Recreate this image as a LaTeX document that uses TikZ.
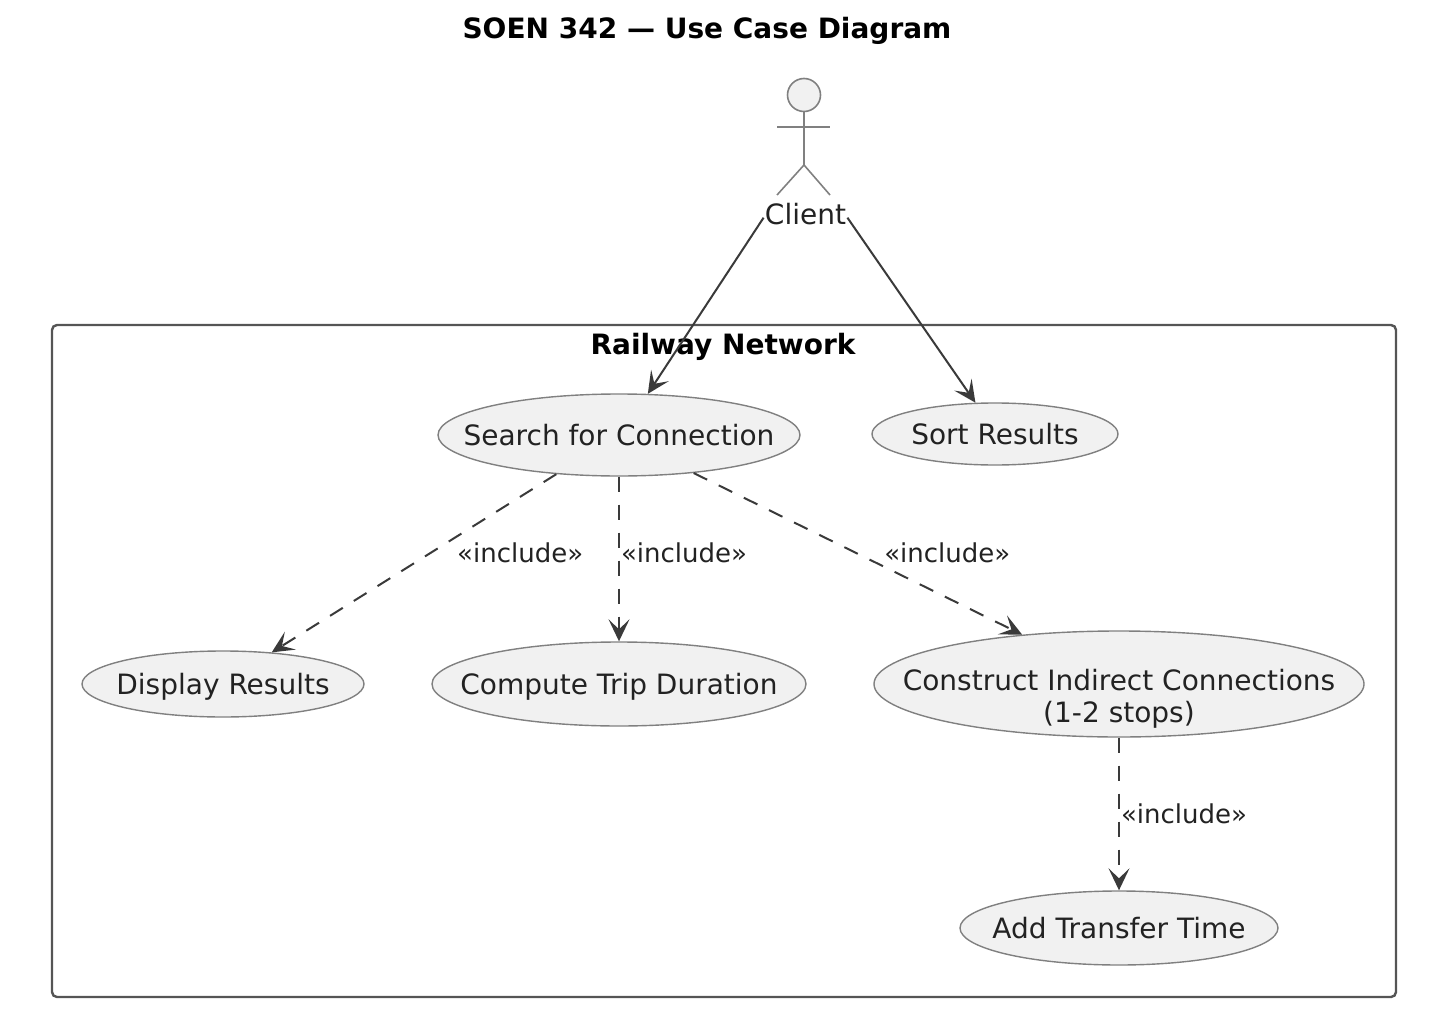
\documentclass[tikz,border=0pt]{standalone}
\usepackage{fontspec}
\setmainfont{DejaVu Sans}
\usetikzlibrary{arrows.meta,shapes.geometric}

\definecolor{caseFill}{HTML}{F1F1F1}
\definecolor{caseLine}{HTML}{808080}
\definecolor{arrowLine}{HTML}{3A3A3A}
\definecolor{frameLine}{HTML}{555555}
\definecolor{labelText}{HTML}{222222}

\tikzset{
    usecase/.style={ellipse,draw=caseLine,fill=caseFill,line width=0.7pt,inner sep=-100pt,align=center,
        text height=10.5pt,text depth=0pt,text=labelText,font=\fontsize{14}{16}\selectfont},
    assoc/.style={draw=arrowLine,line width=1pt,-{Stealth[length=11pt,width=10.5pt,inset=5pt]}},
    incl/.style={assoc,dash pattern=on 7.5pt off 6.5pt},
    inclabel/.style={inner sep=0pt,text=labelText,font=\fontsize{13}{15}\selectfont},
    stick/.style={draw=caseLine,line width=0.8pt}
}

\begin{document}
\begin{tikzpicture}[x=0.5pt,y=-0.5pt]
\useasboundingbox (0,0) rectangle (1430,1022);

% Title
\node[font=\fontsize{14}{16}\selectfont\bfseries,text=black] (title) at (707,31) {SOEN 342 — Use Case Diagram};

% Actor
\draw[stick,fill=caseFill] (804,95) circle (16.5);
\draw[stick] (804,111) -- (804,165);
\draw[stick] (777,127) -- (830,127);
\draw[stick] (777,195) -- (804,165) -- (830,195);
\node[inner sep=0pt,minimum width=41.5pt,minimum height=15pt,text=labelText,font=\fontsize{14}{16}\selectfont] (client) at (805.5,214) {Client};

% System boundary
\draw[frameLine,line width=1.2pt,rounded corners=2.5pt] (52,325) rectangle (1396,997);
\node[font=\fontsize{14}{16}\selectfont\bfseries,text=black] (railway) at (723,347) {Railway Network};

% Use cases
\node[usecase,minimum width=181pt,minimum height=41pt] (search) at (619,435) {Search for Connection};
\node[usecase,minimum width=123pt,minimum height=31pt] (sort) at (995,434) {Sort Results};
\node[usecase,minimum width=141pt,minimum height=33pt] (display) at (223,684) {Display Results};
\node[usecase,minimum width=187pt,minimum height=42pt] (compute) at (619,684) {Compute Trip Duration};
\node[usecase,minimum width=245pt,minimum height=53pt,text height=38.5pt,text depth=0pt] (construct) at (1119,684) {Construct Indirect Connections\\(1-2 stops)};
\node[usecase,minimum width=159pt,minimum height=37pt] (transfer) at (1119,928) {Add Transfer Time};

% Associations
\draw[assoc] (client.185) -- (search.55);
\draw[assoc] (client.-5) -- (sort.122);

% Includes
\draw[incl] (search.212.5) -- (display.33) node[pos=.44,right=12.5pt,inclabel] {«include»};
\draw[incl] (search.south) -- (compute.north) node[pos=.46,right=0.5pt,inclabel] {«include»};
\draw[incl] (search.-27) -- (construct.153) node[pos=.495,right=13.5pt,inclabel] {«include»};
\draw[incl] (construct.south) -- (transfer.north) node[pos=.5,right=0.5pt,inclabel] {«include»};

\end{tikzpicture}
\end{document}
